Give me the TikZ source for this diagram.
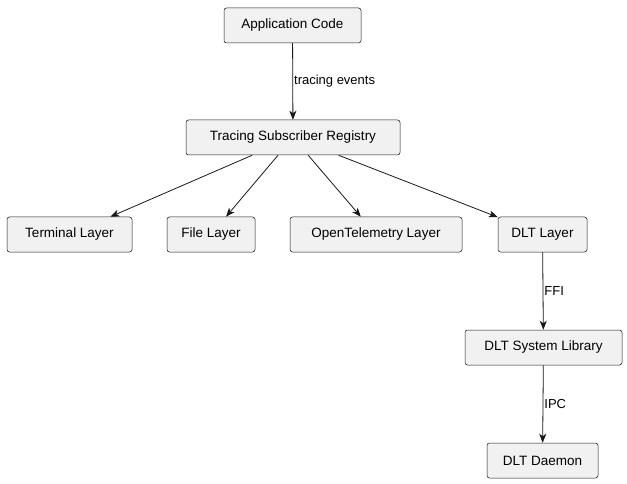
\documentclass[tikz,border=0pt]{standalone}
\usepackage{fontspec}
\setmainfont{Liberation Sans}
\usetikzlibrary{arrows.meta}
\definecolor{boxfill}{HTML}{F1F1F1}
\definecolor{boxline}{HTML}{181818}
\tikzset{
  comp/.style={draw=boxline, fill=boxfill, rounded corners=2.5pt, line width=0.5pt,
    minimum height=35pt, inner xsep=0pt, font=\fontsize{13.5pt}{16pt}\selectfont},
  link/.style={-{Stealth[length=9pt,width=7pt,inset=2.5pt]}, draw=boxline, line width=0.8pt},
  lbl/.style={font=\fontsize{13pt}{15pt}\selectfont, anchor=west, inner sep=1pt}
}
\begin{document}
\begin{tikzpicture}[x=1pt,y=-1pt]
  \useasboundingbox (0,0) rectangle (627,484);

  \node[comp, minimum width=137pt] (app) at (292.5,25.5) {Application Code};
  \node[comp, minimum width=214pt] (reg) at (293,137.5) {Tracing Subscriber Registry};

  \node[comp, minimum width=125pt] (term) at (69.5,234.5) {Terminal Layer};
  \node[comp, minimum width=88pt] (file) at (211,234.5) {File Layer};
  \node[comp, minimum width=172pt] (otel) at (376,234.5) {OpenTelemetry Layer};
  \node[comp, minimum width=89pt] (dlt) at (542.5,234.5) {DLT Layer};

  \node[comp, minimum width=157pt] (lib) at (543.5,347.5) {DLT System Library};
  \node[comp, minimum width=111pt] (daemon) at (542.5,460.5) {DLT Daemon};

  \draw[link] (app) -- node[lbl] {tracing events} (reg);
  \draw[link] (reg) -- (term);
  \draw[link] (reg) -- (file);
  \draw[link] (reg) -- (otel);
  \draw[link] (reg) -- (dlt);
  \draw[link] (dlt) -- node[lbl] {FFI} (lib);
  \draw[link] (lib) -- node[lbl] {IPC} (daemon);
\end{tikzpicture}
\end{document}
